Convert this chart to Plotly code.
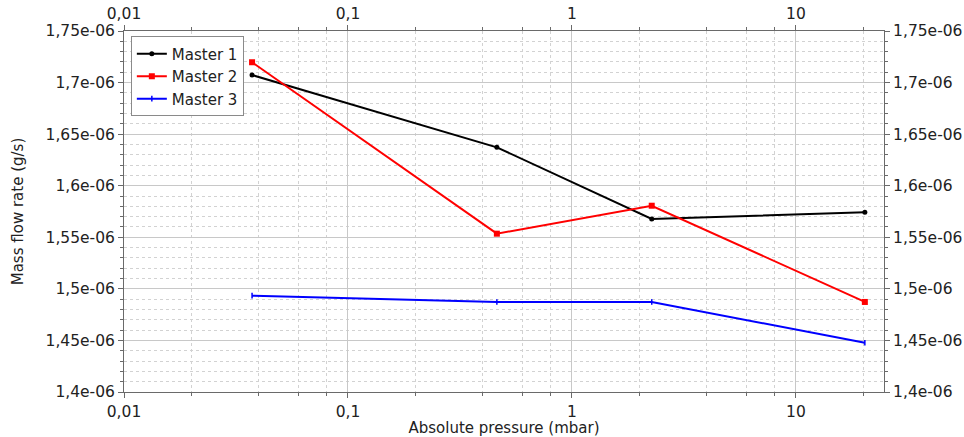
import numpy as np
import plotly.graph_objects as go

pressure = [0.0373, 0.462, 2.27, 20.3]
master1 = [1.7073e-06, 1.6372e-06, 1.5677e-06, 1.5742e-06]
master2 = [1.7197e-06, 1.5535e-06, 1.5806e-06, 1.4873e-06]
master3 = [1.4934e-06, 1.4873e-06, 1.4873e-06, 1.4478e-06]

x_tickvals = [0.01, 0.1, 1, 10]
x_ticktext = ["0,01", "0,1", "1", "10"]
y_tickvals = [1.4e-06, 1.45e-06, 1.5e-06, 1.55e-06, 1.6e-06, 1.65e-06, 1.7e-06, 1.75e-06]
y_ticktext = ["1,4e-06", "1,45e-06", "1,5e-06", "1,55e-06", "1,6e-06", "1,65e-06", "1,7e-06", "1,75e-06"]

x_minor = [m * d for d in [0.01, 0.1, 1, 10] for m in [2, 4, 6, 8]]
y_minor = [round(1.4e-06 + i * 0.01e-06, 12) for i in range(36) if i % 5 != 0]

x_range = [-2, 1.393]
y_range = [1.4e-06, 1.75e-06]

FONT = "DejaVu Sans"
FS = 15
TFS = 15.5
fig = go.Figure()
fig.add_trace(go.Scatter(x=pressure, y=master1, name="Master 1", mode="lines+markers",
                         line=dict(color="#000000", width=2),
                         marker=dict(symbol="circle", size=5, color="#000000")))
fig.add_trace(go.Scatter(x=pressure, y=master2, name="Master 2", mode="lines+markers",
                         line=dict(color="#ff0000", width=2),
                         marker=dict(symbol="square", size=6, color="#ff0000")))
fig.add_trace(go.Scatter(x=pressure, y=master3, name="Master 3", mode="lines+markers",
                         line=dict(color="#0000ff", width=2),
                         marker=dict(symbol="line-ns", size=4, color="#0000ff",
                                     line=dict(color="#0000ff", width=1.5))))
# invisible trace to bring up the mirrored (top/right) axes
fig.add_trace(go.Scatter(x=pressure, y=master1, xaxis="x2", yaxis="y2", mode="lines",
                         line=dict(width=0), opacity=0, showlegend=False, hoverinfo="skip"))

axis_common = dict(showline=True, linecolor="#6a6a6a", linewidth=1, ticks="outside",
                   ticklen=5, tickcolor="#6a6a6a", tickfont=dict(family=FONT, size=TFS, color="#222"),
                   zeroline=False, automargin=False)

fig.update_layout(
    width=964, height=437,
    margin=dict(l=124, r=80, t=31, b=45),
    paper_bgcolor="white", plot_bgcolor="white",
    font=dict(family=FONT, size=FS, color="#222"),
    xaxis=dict(type="log", range=x_range, tickvals=x_tickvals, ticktext=x_ticktext,
               showgrid=True, gridcolor="#c8c8c8", gridwidth=1,
               minor=dict(tickvals=x_minor, showgrid=True, gridcolor="#d2d2d2", griddash="dot",
                          ticks="outside", ticklen=3, tickcolor="#6a6a6a"),
               title=dict(text="Absolute pressure (mbar)", font=dict(family=FONT, size=FS, color="#222"),
                          standoff=4),
               **axis_common),
    yaxis=dict(range=y_range, tickvals=y_tickvals, ticktext=y_ticktext,
               showgrid=True, gridcolor="#c8c8c8", gridwidth=1,
               minor=dict(tickvals=y_minor, showgrid=True, gridcolor="#d2d2d2", griddash="dot",
                          ticks="outside", ticklen=3, tickcolor="#6a6a6a"),
               title=dict(text="Mass flow rate (g/s)", font=dict(family=FONT, size=FS, color="#222"),
                          standoff=18),
               **axis_common),
    xaxis2=dict(type="log", range=x_range, tickvals=x_tickvals, ticktext=x_ticktext,
                overlaying="x", side="top", anchor="y", showgrid=False,
                minor=dict(tickvals=x_minor, ticks="outside", ticklen=3, tickcolor="#6a6a6a"),
                **axis_common),
    yaxis2=dict(range=y_range, tickvals=y_tickvals, ticktext=y_ticktext,
                overlaying="y", side="right", anchor="x", showgrid=False,
                minor=dict(tickvals=y_minor, ticks="outside", ticklen=3, tickcolor="#6a6a6a"),
                **axis_common),
    legend=dict(x=0.009, y=0.985, xanchor="left", yanchor="top",
                bgcolor="white", bordercolor="#8a8a8a", borderwidth=1,
                font=dict(family=FONT, size=FS, color="#222"),
                tracegroupgap=0, itemwidth=30),
    showlegend=True,
)

fig.write_html("out.html", config={"displayModeBar": False},
               post_script="document.body.style.margin='0px';")
